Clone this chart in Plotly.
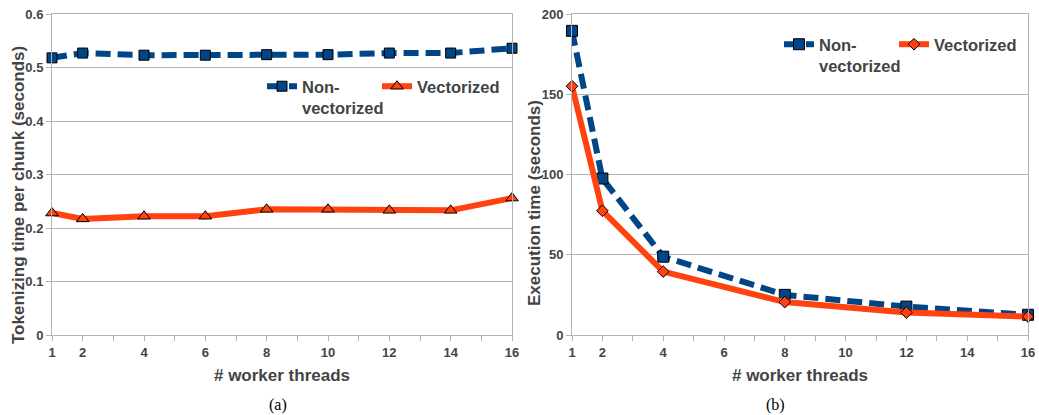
import plotly.graph_objects as go

# ---- data ----
threads_a = [1, 2, 4, 6, 8, 10, 12, 14, 16]
tok_nonvec = [0.518, 0.527, 0.523, 0.523, 0.524, 0.524, 0.527, 0.527, 0.536]
tok_vec = [0.228, 0.217, 0.222, 0.222, 0.235, 0.235, 0.233, 0.233, 0.256]

threads_b = [1, 2, 4, 8, 12, 16]
exec_nonvec = [189.5, 97.5, 48.8, 25.0, 17.7, 12.6]
exec_vec = [155.0, 77.4, 39.5, 20.5, 14.0, 11.5]

x_tickvals = list(range(1, 17))
x_ticktext = ["1", "2", "", "4", "", "6", "", "8", "", "10", "", "12", "", "14", "", "16"]
ya_ticks = [0, 0.1, 0.2, 0.3, 0.4, 0.5, 0.6]
ya_text = ["0", "0.1", "0.2", "0.3", "0.4", "0.5", "0.6"]
yb_ticks = [0, 50, 100, 150, 200]

BLUE = "#004586"
ORANGE = "#ff420e"
TXT = "#444444"
GRID = "#b3b3b3"
FONT = "Liberation Sans"

fig = go.Figure()

fig.add_trace(go.Scatter(
    x=threads_a, y=tok_nonvec, name="Non-<br>vectorized", mode="lines+markers",
    line=dict(color=BLUE, width=6, dash="15px,7px"),
    marker=dict(symbol="square", size=10, color=BLUE, line=dict(color="black", width=1)),
    xaxis="x", yaxis="y", legend="legend", cliponaxis=False))
fig.add_trace(go.Scatter(
    x=threads_a, y=tok_vec, name="Vectorized", mode="lines+markers",
    line=dict(color=ORANGE, width=6),
    marker=dict(symbol="triangle-up", size=11, color=ORANGE, line=dict(color="black", width=1)),
    xaxis="x", yaxis="y", legend="legend2", cliponaxis=False))
fig.add_trace(go.Scatter(
    x=threads_b, y=exec_nonvec, name="Non-<br>vectorized", mode="lines+markers",
    line=dict(color=BLUE, width=6, dash="15px,7px"),
    marker=dict(symbol="square", size=11, color=BLUE, line=dict(color="black", width=1)),
    xaxis="x2", yaxis="y2", legend="legend3", cliponaxis=False))
fig.add_trace(go.Scatter(
    x=threads_b, y=exec_vec, name="Vectorized", mode="lines+markers",
    line=dict(color=ORANGE, width=6),
    marker=dict(symbol="diamond", size=9, color=ORANGE, line=dict(color="black", width=1)),
    xaxis="x2", yaxis="y2", legend="legend4", cliponaxis=False))

tickfont = dict(family=FONT, size=13, color=TXT, weight="bold")
titlefont = dict(family=FONT, size=17, color=TXT, weight="bold")

def xaxis(domain, anchor):
    return dict(domain=domain, anchor=anchor, range=[1, 16], tickvals=x_tickvals, ticktext=x_ticktext,
                showgrid=False, zeroline=False, showline=True, linecolor=GRID, linewidth=1, mirror=True,
                ticks="outside", ticklen=5, tickcolor=GRID, tickfont=tickfont, automargin=False,
                title=dict(text="# worker threads", font=titlefont, standoff=10))

def yaxis(domain, anchor, rng, tv, tt):
    return dict(domain=domain, anchor=anchor, range=rng, tickvals=tv, ticktext=tt,
                showgrid=True, gridcolor=GRID, gridwidth=1, zeroline=False,
                showline=True, linecolor=GRID, linewidth=1, mirror=True, automargin=False,
                ticks="outside", ticklen=5, tickcolor=GRID, tickfont=tickfont)

W, H = 1039, 415
ydom = [80 / H, 401 / H]
legfont = dict(family=FONT, size=16.5, color=TXT, weight="bold")

def legend(xpx, ypx):
    return dict(orientation="h", x=xpx / W, y=1 - ypx / H, xanchor="left", yanchor="top",
                bgcolor="rgba(0,0,0,0)", font=legfont, valign="top", itemwidth=30)

fig.update_layout(
    width=W, height=H,
    margin=dict(l=0, r=0, t=0, b=0, autoexpand=False),
    paper_bgcolor="white", plot_bgcolor="white",
    xaxis=xaxis([52 / W, 512 / W], "y"),
    yaxis=yaxis(ydom, "x", [0, 0.6], ya_ticks, ya_text),
    xaxis2=xaxis([572 / W, 1028 / W], "y2"),
    yaxis2=yaxis(ydom, "x2", [0, 200], yb_ticks, [str(v) for v in yb_ticks]),
    legend=legend(262, 69),
    legend2=legend(377, 69),
    legend3=legend(779, 27),
    legend4=legend(894, 27),
    showlegend=True,
    annotations=[
        dict(text="Tokenizing time per chunk (seconds)", textangle=-90, x=18 / W, y=1 - 195 / H,
             xref="paper", yref="paper", showarrow=False, font=titlefont,
             xanchor="center", yanchor="middle"),
        dict(text="Execution time (seconds)", textangle=-90, x=534 / W, y=1 - 203 / H,
             xref="paper", yref="paper", showarrow=False, font=titlefont,
             xanchor="center", yanchor="middle"),
        dict(text="(a)", x=267 / W, y=1 - 405 / H, xref="paper", yref="paper", showarrow=False,
             font=dict(family="Liberation Serif", size=16, color="black"), yanchor="middle"),
        dict(text="(b)", x=787 / W, y=1 - 405 / H, xref="paper", yref="paper", showarrow=False,
             font=dict(family="Liberation Serif", size=16, color="black"), yanchor="middle"),
    ],
)

fig.write_html("out.html")
